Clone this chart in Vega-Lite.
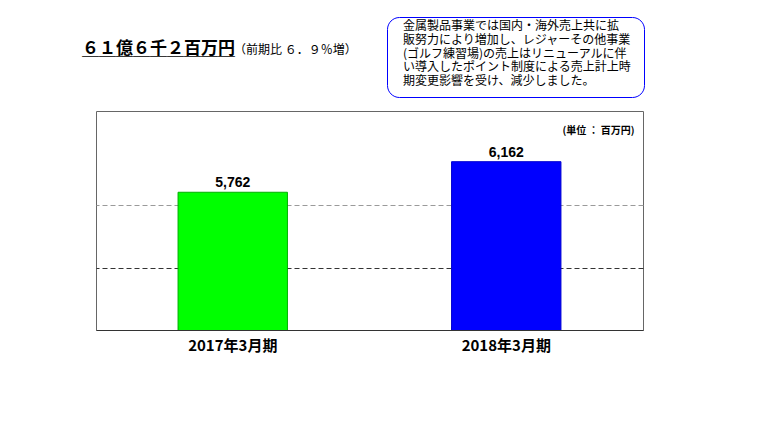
{
  "$schema": "https://vega.github.io/schema/vega-lite/v6.json",
  "autosize": "none",
  "width": 547,
  "height": 219,
  "padding": {"left": 96, "top": 111, "right": 125, "bottom": 102},
  "background": "white",
  "title": {
    "text": ["６１億６千２百万円", "＿＿＿＿＿＿＿＿＿"],
    "subtitle": "\u200b　　　　　　　　　　　　\u2002\u2006（前期比 ６．９％増）",
    "anchor": "start",
    "frame": "group",
    "dx": -14,
    "offset": -42,
    "font": "Noto Sans CJK JP",
    "fontSize": 17,
    "fontWeight": "bold",
    "lineHeight": 1,
    "color": "black",
    "subtitleFont": "Noto Sans CJK JP",
    "subtitleFontSize": 12,
    "subtitleColor": "black",
    "subtitlePadding": -14
  },
  "data": {
    "values": [
      {"period": "2017年3月期", "sales": 5762},
      {"period": "2018年3月期", "sales": 6162}
    ]
  },
  "encoding": {
    "x": {
      "field": "period",
      "type": "nominal",
      "sort": null,
      "scale": {"paddingInner": 0.6, "paddingOuter": 0.3},
      "axis": {
        "title": null,
        "labelAngle": 0,
        "labelFont": "Noto Sans CJK JP",
        "labelFontSize": 15,
        "labelFontWeight": "bold",
        "labelColor": "black",
        "labelPadding": 12,
        "bandPosition": 0,
        "tickSize": -4,
        "tickColor": "black",
        "domainColor": "#333333"
      }
    },
    "y": {
      "field": "sales",
      "type": "quantitative",
      "scale": {"domain": [3960, 6825], "zero": false, "nice": false},
      "axis": {
        "orient": "right",
        "values": [4770, 5590],
        "labels": false,
        "ticks": false,
        "domain": false,
        "grid": true,
        "gridDash": [5, 3],
        "gridColor": {"condition": {"test": "datum.value > 5000", "value": "#9a9a9a"}, "value": "#333333"},
        "title": "(単位 ： 百万円)",
        "titleAngle": 0,
        "titleAlign": "right",
        "titleBaseline": "middle",
        "titleX": -9,
        "titleY": 19,
        "titleFont": "Noto Sans CJK JP",
        "titleFontSize": 10,
        "titleFontWeight": "bold",
        "titleColor": "black"
      }
    }
  },
  "layer": [
    {
      "mark": {"type": "bar", "strokeWidth": 1, "clip": true},
      "encoding": {
        "color": {
          "field": "period",
          "type": "nominal",
          "scale": {"range": ["#00ff00", "#0000ff"]},
          "legend": {
            "orient": "none",
            "legendX": 291,
            "legendY": -94,
            "title": [
              "\u200b\u2003金属製品事業では国内・海外売上共に拡\u2002\u2006\u200b",
              "\u200b\u2003販努力により増加し、レジャーその他事業\u2002\u2006\u200b",
              "\u200b\u2003(ゴルフ練習場)の売上はリニューアルに伴\u2002\u2006\u200b",
              "\u200b\u2003い導入したポイント制度による売上計上時\u2002\u2006\u200b",
              "\u200b\u2003期変更影響を受け、減少しました。\u2002\u2006\u200b"
            ],
            "titleFont": "Noto Sans CJK JP",
            "titleFontSize": 12,
            "titleFontWeight": "normal",
            "titleColor": "black",
            "titleLineHeight": 13.75,
            "titleLimit": 400,
            "titlePadding": 0,
            "padding": 4,
            "cornerRadius": 12,
            "strokeColor": "#0000ff",
            "fillColor": "white",
            "direction": "horizontal",
            "labelExpr": "''",
            "labelFontSize": 0,
            "symbolSize": 0,
            "symbolStrokeWidth": 0,
            "symbolOpacity": 0,
            "rowPadding": 0,
            "columnPadding": 0
          }
        },
        "stroke": {
          "field": "period",
          "type": "nominal",
          "scale": {"range": ["#00b000", "#0000d0"]},
          "legend": null
        }
      }
    },
    {
      "mark": {
        "type": "text",
        "baseline": "alphabetic",
        "dy": -5,
        "font": "Liberation Sans",
        "fontSize": 14,
        "fontWeight": "bold",
        "color": "black"
      },
      "encoding": {
        "text": {"field": "sales", "type": "quantitative", "format": ",d"}
      }
    }
  ],
  "config": {
    "font": "Noto Sans CJK JP",
    "view": {"stroke": "#666666"}
  }
}
